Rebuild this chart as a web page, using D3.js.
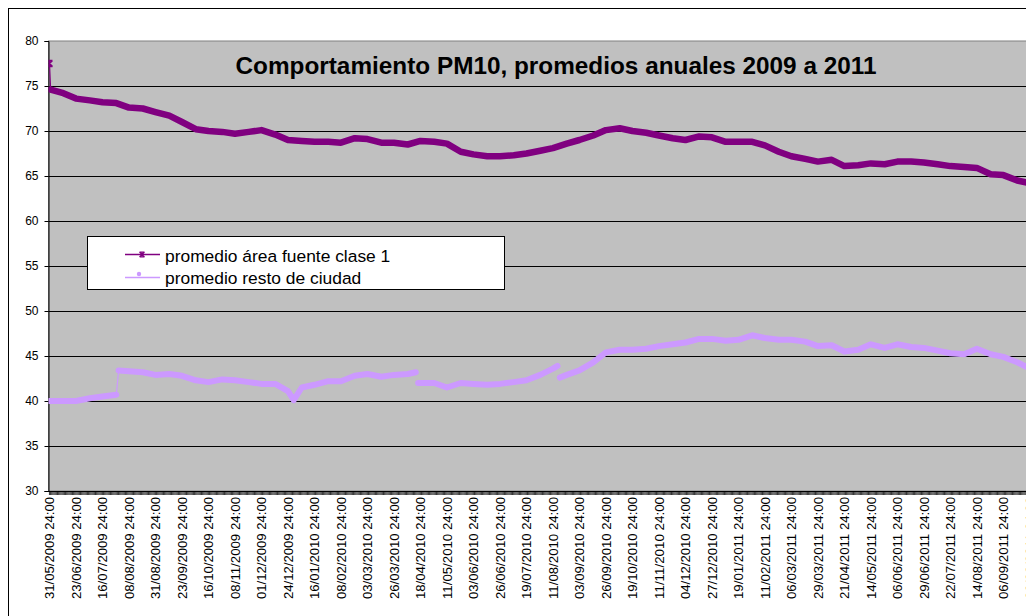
<!DOCTYPE html>
<html><head><meta charset="utf-8">
<script src="https://cdn.jsdelivr.net/npm/d3@7"></script>
<style>html,body{margin:0;padding:0;overflow:hidden;background:#fff}</style>
</head><body>
<svg id="c" width="1026" height="616"></svg>
<script>
const chartTitle = "Comportamiento PM10, promedios anuales 2009 a 2011";
const seriesNames = ["promedio área fuente clase 1", "promedio resto de ciudad"];
const yTicks = [30, 35, 40, 45, 50, 55, 60, 65, 70, 75, 80];
const tickLabels = [
  "31/05/2009 24:00","23/06/2009 24:00","16/07/2009 24:00","08/08/2009 24:00","31/08/2009 24:00",
  "23/09/2009 24:00","16/10/2009 24:00","08/11/2009 24:00","01/12/2009 24:00","24/12/2009 24:00",
  "16/01/2010 24:00","08/02/2010 24:00","03/03/2010 24:00","26/03/2010 24:00","18/04/2010 24:00",
  "11/05/2010 24:00","03/06/2010 24:00","26/06/2010 24:00","19/07/2010 24:00","11/08/2010 24:00",
  "03/09/2010 24:00","26/09/2010 24:00","19/10/2010 24:00","11/11/2010 24:00","04/12/2010 24:00",
  "27/12/2010 24:00","19/01/2011 24:00","11/02/2011 24:00","06/03/2011 24:00","29/03/2011 24:00",
  "21/04/2011 24:00","14/05/2011 24:00","06/06/2011 24:00","29/06/2011 24:00","22/07/2011 24:00",
  "14/08/2011 24:00","06/09/2011 24:00","29/09/2011 24:00"
];

// Series 1: promedio área fuente clase 1
const fuenteDates = [
  "31/05/2009","01/06/2009","12/06/2009","23/06/2009","05/07/2009","16/07/2009","28/07/2009","08/08/2009",
  "20/08/2009","31/08/2009","12/09/2009","23/09/2009","05/10/2009","16/10/2009","28/10/2009","08/11/2009",
  "20/11/2009","01/12/2009","13/12/2009","24/12/2009","05/01/2010","16/01/2010","28/01/2010","08/02/2010",
  "20/02/2010","03/03/2010","15/03/2010","26/03/2010","07/04/2010","18/04/2010","30/04/2010","11/05/2010",
  "23/05/2010","03/06/2010","15/06/2010","26/06/2010","08/07/2010","19/07/2010","31/07/2010","11/08/2010",
  "23/08/2010","03/09/2010","15/09/2010","26/09/2010","08/10/2010","19/10/2010","31/10/2010","11/11/2010",
  "23/11/2010","04/12/2010","16/12/2010","27/12/2010","08/01/2011","19/01/2011","31/01/2011","11/02/2011",
  "23/02/2011","06/03/2011","18/03/2011","29/03/2011","10/04/2011","21/04/2011","03/05/2011","14/05/2011",
  "26/05/2011","06/06/2011","18/06/2011","29/06/2011","11/07/2011","22/07/2011","03/08/2011","14/08/2011",
  "26/08/2011","06/09/2011","18/09/2011","29/09/2011"
];
const fuenteValues = [
  77.5,74.6,74.2,73.6,73.4,73.2,73.1,72.6,
  72.5,72.1,71.7,71.0,70.2,70.0,69.9,69.7,
  69.9,70.1,69.6,69.0,68.9,68.8,68.8,68.7,
  69.2,69.1,68.7,68.7,68.5,68.9,68.8,68.6,
  67.7,67.4,67.2,67.2,67.3,67.5,67.8,68.1,
  68.6,69.0,69.5,70.1,70.3,70.0,69.8,69.5,
  69.2,69.0,69.4,69.3,68.8,68.8,68.8,68.4,
  67.7,67.2,66.9,66.6,66.8,66.1,66.2,66.4,
  66.3,66.6,66.6,66.5,66.3,66.1,66.0,65.9,
  65.2,65.1,64.5,64.2
];

// Series 2: promedio resto de ciudad (null = missing day)
const restoDates = [
  "31/05/2009","12/06/2009","23/06/2009","05/07/2009","16/07/2009","28/07/2009","30/07/2009","08/08/2009",
  "20/08/2009","31/08/2009","12/09/2009","23/09/2009","05/10/2009","16/10/2009","28/10/2009","08/11/2009",
  "20/11/2009","01/12/2009","13/12/2009","24/12/2009","29/12/2009","05/01/2010","16/01/2010","28/01/2010",
  "08/02/2010","20/02/2010","03/03/2010","15/03/2010","26/03/2010","07/04/2010","14/04/2010","15/04/2010",
  "16/04/2010","18/04/2010","30/04/2010","11/05/2010","23/05/2010","03/06/2010","15/06/2010","26/06/2010",
  "08/07/2010","19/07/2010","31/07/2010","11/08/2010","15/08/2010","16/08/2010","17/08/2010","23/08/2010",
  "03/09/2010","15/09/2010","26/09/2010","08/10/2010","19/10/2010","31/10/2010","11/11/2010","23/11/2010",
  "04/12/2010","16/12/2010","27/12/2010","08/01/2011","19/01/2011","31/01/2011","11/02/2011","23/02/2011",
  "06/03/2011","18/03/2011","29/03/2011","10/04/2011","21/04/2011","03/05/2011","14/05/2011","26/05/2011",
  "06/06/2011","18/06/2011","29/06/2011","11/07/2011","22/07/2011","03/08/2011","14/08/2011","26/08/2011",
  "06/09/2011","18/09/2011","29/09/2011"
];
const restoValues = [
  40.0,40.0,40.0,40.3,40.5,40.7,43.4,43.3,
  43.2,42.9,43.0,42.8,42.3,42.1,42.4,42.3,
  42.1,41.9,41.9,41.1,40.1,41.5,41.8,42.2,
  42.2,42.8,43.0,42.7,42.9,43.0,43.2,null,
  42.0,42.0,42.0,41.5,42.0,41.9,41.8,41.9,
  42.1,42.3,42.9,43.6,43.9,null,42.6,42.9,
  43.4,44.3,45.4,45.7,45.7,45.8,46.1,46.3,
  46.5,46.9,46.9,46.7,46.8,47.3,47.0,46.8,
  46.8,46.6,46.1,46.2,45.5,45.7,46.3,45.9,
  46.3,46.0,45.9,45.6,45.3,45.2,45.8,45.2,
  44.9,44.3,43.6
];

const FONT = "'Liberation Sans', Arial, sans-serif";
const colFuente = "#800080";
const colResto = "#CC99FF";

const parse = d3.utcParse("%d/%m/%Y");
const startDate = parse("31/05/2009");
const endDate = parse("31/12/2011");
const dayPx = 1.152;
const nDays = d3.utcDay.count(startDate, endDate);
const x = d3.scaleUtc().domain([startDate, endDate]).range([49.5, 49.5 + nDays * dayPx]);
const y = d3.scaleLinear().domain([30, 80]).range([491, 41]);

const svg = d3.select("#c");
const plotLeft = 48.5, plotRight = 1200;

// outer frame (cropped by viewport)
svg.append("rect").attr("x", 8.5).attr("y", 8.5).attr("width", 1300).attr("height", 800)
  .attr("fill", "#fff").attr("stroke", "#000").attr("stroke-width", 1);

// plot area
svg.append("rect").attr("x", plotLeft).attr("y", y(80)).attr("width", plotRight - plotLeft)
  .attr("height", y(30) - y(80)).attr("fill", "#C0C0C0").attr("stroke", "#808080");

// gridlines
svg.append("g").selectAll("line").data(yTicks.filter(v => v > 30 && v < 80)).join("line")
  .attr("x1", plotLeft).attr("x2", plotRight)
  .attr("y1", d => Math.round(y(d)) + 0.5).attr("y2", d => Math.round(y(d)) + 0.5)
  .attr("stroke", "#000").attr("stroke-width", 1);

// y axis
const yAxis = svg.append("g").attr("transform", `translate(${plotLeft},0)`)
  .call(d3.axisLeft(y).tickValues(yTicks).tickSize(4).tickPadding(6).tickFormat(d3.format("d")));
yAxis.select(".domain").attr("stroke", "#000");
yAxis.selectAll("line").attr("stroke", "#000");
yAxis.selectAll("text").attr("font-family", FONT).attr("font-size", 12).attr("fill", "#000");

// x axis: a tick for every day (category boundaries)
const allDays = d3.utcDay.range(startDate, d3.utcDay.offset(endDate, 1));
const xTicksG = svg.append("g").attr("transform", `translate(${-dayPx / 2},491)`)
  .call(d3.axisBottom(x).tickValues(allDays).tickSize(4).tickFormat(""));
xTicksG.select(".domain").remove();
xTicksG.selectAll("line").attr("stroke", "#000").attr("stroke-width", 0.8);
svg.append("line").attr("x1", plotLeft).attr("x2", plotRight).attr("y1", 491.5).attr("y2", 491.5)
  .attr("stroke", "#000");

// x labels
const labelDates = tickLabels.map(s => parse(s.slice(0, 10)));
const xLab = svg.append("g").attr("transform", "translate(0,491)")
  .call(d3.axisBottom(x).tickValues(labelDates).tickSize(0).tickFormat((d, i) => tickLabels[i]));
xLab.select(".domain").remove();
xLab.selectAll("text")
  .attr("font-family", FONT).attr("font-size", 12).attr("fill", "#000")
  .attr("text-anchor", "end")
  .attr("transform", "rotate(-90)")
  .attr("x", -6).attr("y", 0).attr("dy", "0.35em")
  .attr("textLength", 102).attr("lengthAdjust", "spacingAndGlyphs");

// series drawing
function buildPoints(dates, values) {
  return dates.map((d, i) => ({ date: parse(d), v: values[i] }));
}
const line = d3.line().defined(d => d.v != null).x(d => x(d.date)).y(d => y(d.v));

function segments(points) {
  const segs = []; let cur = [];
  points.forEach(p => {
    if (p.v == null) { if (cur.length) segs.push(cur); cur = []; return; }
    if (cur.length && Math.abs(p.v - cur[cur.length - 1].v) > 1.5) { segs.push(cur); cur = []; }
    cur.push(p);
  });
  if (cur.length) segs.push(cur);
  return segs;
}

svg.append("clipPath").attr("id", "pc").append("rect")
  .attr("x", plotLeft).attr("y", y(80)).attr("width", plotRight - plotLeft).attr("height", y(30) - y(80));
const plotG = svg.append("g").attr("clip-path", "url(#pc)");

function drawSeries(points, color, width) {
  plotG.append("path").datum(points).attr("d", line).attr("fill", "none")
    .attr("stroke", color).attr("stroke-width", 1.2);
  segments(points).filter(s => s.length > 1).forEach(s => {
    plotG.append("path").datum(s).attr("d", line).attr("fill", "none")
      .attr("stroke", color).attr("stroke-width", width)
      .attr("stroke-linejoin", "round").attr("stroke-linecap", "round");
  });
}
const fuente = buildPoints(fuenteDates, fuenteValues);
const resto = buildPoints(restoDates, restoValues);
drawSeries(resto, colResto, 6);
drawSeries(fuente, colFuente, 6.5);

// star marker for first isolated point of series 1
function starPath(s) {
  return `M${-s},${-s}L${s},${s}M${-s},${s}L${s},${-s}M0,${-s}L0,${s}M${-s},${-s}L${s},${-s}M${-s},${s}L${s},${s}`;
}
plotG.append("path").attr("d", starPath(3))
  .attr("transform", `translate(${x(fuente[0].date)},${y(fuente[0].v)})`)
  .attr("fill", "none").attr("stroke", colFuente).attr("stroke-width", 1.5);

// title
svg.append("text").attr("x", 556).attr("y", 74).attr("text-anchor", "middle")
  .attr("font-family", FONT).attr("font-weight", "bold").attr("font-size", 23)
  .attr("textLength", 641).attr("lengthAdjust", "spacingAndGlyphs")
  .text(chartTitle);

// legend
const lg = svg.append("g");
lg.append("rect").attr("x", 87.5).attr("y", 236.5).attr("width", 417).attr("height", 53)
  .attr("fill", "#fff").attr("stroke", "#000");
const legendRows = [
  { name: seriesNames[0], color: colFuente, ly: 254.5, ty: 262, marker: "star" },
  { name: seriesNames[1], color: colResto, ly: 277.5, ty: 284, marker: "dot" }
];
legendRows.forEach(r => {
  lg.append("line").attr("x1", 125).attr("x2", 160).attr("y1", r.ly).attr("y2", r.ly)
    .attr("stroke", r.color).attr("stroke-width", 1.5);
  if (r.marker === "star") {
    lg.append("path").attr("d", starPath(2.5)).attr("transform", `translate(142,${r.ly})`)
      .attr("fill", "none").attr("stroke", r.color).attr("stroke-width", 1.2);
  } else {
    lg.append("circle").attr("cx", 139).attr("cy", r.ly - 3.5).attr("r", 2.2).attr("fill", r.color);
  }
  lg.append("text").attr("x", 165).attr("y", r.ty).attr("font-family", FONT).attr("font-size", 17.4)
    .attr("fill", "#000").text(r.name);
});
</script>
</body></html>
